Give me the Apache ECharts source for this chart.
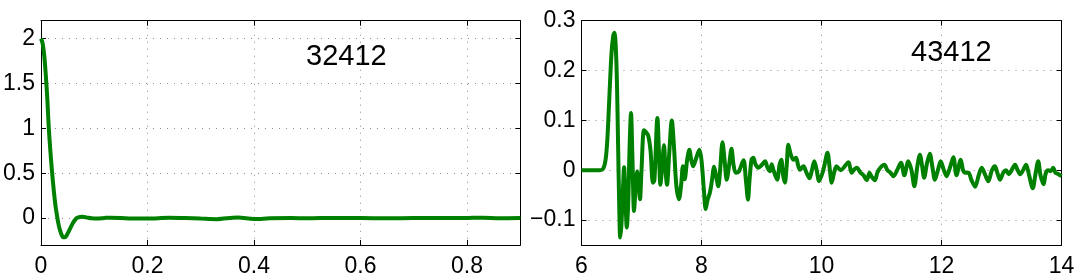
<!DOCTYPE html>
<html>
<head>
<meta charset="utf-8">
<script src="https://cdn.jsdelivr.net/npm/echarts@6/dist/echarts.min.js"></script>
<style>
html,body{margin:0;padding:0;background:#fff;}
#chart{width:1084px;height:278px;}
</style>
</head>
<body>
<div id="chart"></div>
<script>
// ---- data ----
const leftTitle = '32412';
const rightTitle = '43412';
const leftXTicks = [0, 0.2, 0.4, 0.6, 0.8];
const leftYTicks = [0, 0.5, 1, 1.5, 2];
const rightXTicks = [6, 8, 10, 12, 14];
const rightYTicks = [-0.1, 0, 0.1, 0.2, 0.3];

const leftX = [0, 0.003, 0.006, 0.009, 0.012, 0.0145, 0.0175, 0.021, 0.024, 0.027, 0.030, 0.033, 0.036, 0.039, 0.042, 0.045, 0.048, 0.052, 0.056, 0.060, 0.064, 0.068, 0.073, 0.078, 0.085, 0.095, 0.105, 0.12, 0.13, 0.15, 0.17, 0.2, 0.24, 0.27, 0.3, 0.33, 0.36, 0.37, 0.4, 0.43, 0.47, 0.5, 0.55, 0.6, 0.65, 0.7, 0.75, 0.8, 0.83, 0.86, 0.9];
const leftY = [2.0, 1.95, 1.82, 1.6, 1.32, 1.02, 0.76, 0.5, 0.31, 0.15, 0.03, -0.07, -0.14, -0.19, -0.215, -0.215, -0.195, -0.15, -0.1, -0.055, -0.02, 0.003, 0.013, 0.014, 0.008, -0.003, -0.005, 0.002, 0.005, 0.002, -0.004, -0.004, 0.003, 0.0, -0.006, -0.012, 0.004, 0.006, -0.01, -0.003, 0.0, -0.002, 0.002, 0.0, -0.003, 0.0, 0.0, 0.002, 0.005, -0.003, 0.0];

const rightX = [6.0, 6.30, 6.36, 6.40, 6.43, 6.46, 6.50, 6.53, 6.55, 6.57, 6.59, 6.61, 6.63, 6.645, 6.665, 6.69, 6.71, 6.73, 6.755, 6.78, 6.80, 6.825, 6.85, 6.875, 6.90, 6.93, 6.95, 6.975, 7.00, 7.04, 7.07, 7.11, 7.15, 7.19, 7.215, 7.265, 7.29, 7.315, 7.345, 7.375, 7.40, 7.425, 7.46, 7.505, 7.54, 7.58, 7.625, 7.66, 7.69, 7.72, 7.76, 7.797, 7.83, 7.86, 7.90, 7.965, 8.00, 8.04, 8.07, 8.10, 8.14, 8.175, 8.21, 8.24, 8.28, 8.31, 8.35, 8.385, 8.42, 8.46, 8.50, 8.535, 8.57, 8.62, 8.70, 8.74, 8.775, 8.80, 8.835, 8.865, 8.90, 8.95, 9.00, 9.06, 9.10, 9.14, 9.17, 9.20, 9.26, 9.30, 9.33, 9.36, 9.39, 9.42, 9.447, 9.48, 9.53, 9.575, 9.61, 9.64, 9.70, 9.75, 9.80, 9.84, 9.88, 9.92, 9.96, 10.03, 10.10, 10.14, 10.17, 10.21, 10.25, 10.32, 10.45, 10.50, 10.55, 10.59, 10.65, 10.70, 10.755, 10.80, 10.83, 10.89, 10.93, 10.98, 11.047, 11.10, 11.15, 11.20, 11.26, 11.325, 11.38, 11.447, 11.50, 11.547, 11.60, 11.64, 11.675, 11.71, 11.76, 11.805, 11.85, 11.89, 11.94, 11.986, 12.04, 12.086, 12.14, 12.198, 12.25, 12.32, 12.36, 12.40, 12.45, 12.50, 12.56, 12.62, 12.67, 12.73, 12.78, 12.84, 12.89, 12.93, 12.975, 13.03, 13.075, 13.12, 13.16, 13.225, 13.27, 13.31, 13.36, 13.41, 13.46, 13.52, 13.57, 13.612, 13.65, 13.70, 13.74, 13.78, 13.82, 13.86, 13.90, 13.95, 14.0];
const rightY = [0, 0, 0.003, 0.02, 0.06, 0.135, 0.235, 0.27, 0.276, 0.25, 0.18, 0.05, -0.08, -0.135, -0.11, -0.04, 0.006, -0.05, -0.115, -0.06, 0.04, 0.115, 0.02, -0.082, -0.04, -0.002, -0.02, -0.058, 0.0, 0.08, 0.077, 0.07, 0.04, -0.025, -0.02, 0.105, 0.04, -0.029, 0.01, 0.05, 0.0, -0.029, 0.03, 0.10, 0.05, -0.03, -0.058, -0.03, 0.008, -0.018, 0.02, 0.041, 0.02, 0.008, 0.02, 0.041, 0.02, -0.04, -0.078, -0.06, -0.045, -0.02, 0.007, -0.01, -0.032, 0.0, 0.056, 0.02, -0.019, 0.01, 0.043, 0.01, -0.005, -0.003, 0.02, -0.02, -0.059, -0.02, 0.022, 0.025, 0.012, 0.005, 0.01, 0.018, 0.005, -0.002, 0.012, 0.0, -0.019, 0.01, 0.021, -0.01, -0.025, 0.01, 0.051, 0.035, 0.021, 0.025, 0.01, 0.001, 0.008, -0.005, -0.016, 0.0, 0.018, 0.0, -0.022, 0.0, 0.035, 0.0, -0.025, -0.005, 0.008, 0.0, 0.016, -0.005, 0.002, 0.005, -0.005, -0.01, -0.02, -0.005, -0.012, -0.02, -0.005, 0.005, 0.011, 0.0, -0.005, -0.012, 0.0, 0.015, -0.01, 0.018, 0.0, -0.032, 0.01, 0.031, 0.01, -0.015, 0.015, 0.033, 0.005, -0.019, 0.0, 0.018, 0.0, -0.012, 0.005, 0.026, -0.01, 0.021, 0.0, -0.005, -0.005, -0.02, -0.033, -0.01, 0.005, -0.01, -0.022, 0.0, 0.008, -0.005, -0.019, -0.005, 0.0, -0.008, -0.002, 0.011, 0.0, -0.008, 0.0, 0.011, -0.01, -0.036, -0.005, 0.018, -0.01, -0.028, -0.005, 0.0, -0.002, 0.005, -0.005, -0.008, -0.012];

// ---- chart ----
const FONT = '"Liberation Sans", Arial, Helvetica, sans-serif';
const fmt = v => String(Math.round(v * 1000) / 1000).replace('-', '\u2212');
const gridLine = { show: true, lineStyle: { color: '#8a8a8a', width: 1, type: [1, 6] } };

function xAxisDef(gi, min, max, ticks, pos, showLabel) {
  return {
    type: 'value', gridIndex: gi, min: min, max: max, position: pos,
    axisLine: { show: true, onZero: false, lineStyle: { color: '#000', width: 1 } },
    axisTick: { show: true, inside: true, length: 5, customValues: ticks, lineStyle: { color: '#000' } },
    axisLabel: { show: showLabel, customValues: ticks, color: '#000', fontSize: 23, fontFamily: FONT, margin: 10, formatter: fmt },
    splitLine: showLabel ? gridLine : { show: false }
  };
}
function yAxisDef(gi, min, max, ticks, pos, showLabel) {
  return {
    type: 'value', gridIndex: gi, min: min, max: max, position: pos,
    axisLine: { show: true, onZero: false, lineStyle: { color: '#000', width: 1 } },
    axisTick: { show: true, inside: true, length: 5, customValues: ticks, lineStyle: { color: '#000' } },
    axisLabel: { show: showLabel, customValues: ticks, color: '#000', fontSize: 23, fontFamily: FONT, margin: 6, formatter: fmt },
    splitLine: showLabel ? gridLine : { show: false }
  };
}

const chart = echarts.init(document.getElementById('chart'), null, { renderer: 'canvas' });
const zip = (xs, ys) => xs.map((x, i) => [x, ys[i]]);

chart.setOption({
  animation: false,
  backgroundColor: '#fff',
  grid: [
    { left: 40.3, top: 20.7, width: 480, height: 225, containLabel: false },
    { left: 581.5, top: 20.7, width: 480, height: 225, containLabel: false }
  ],
  xAxis: [
    xAxisDef(0, 0, 0.9, leftXTicks, 'bottom', true),
    xAxisDef(0, 0, 0.9, leftXTicks, 'top', false),
    xAxisDef(1, 6, 14, rightXTicks, 'bottom', true),
    xAxisDef(1, 6, 14, rightXTicks, 'top', false)
  ],
  yAxis: [
    yAxisDef(0, -0.3, 2.2, leftYTicks, 'left', true),
    yAxisDef(0, -0.3, 2.2, leftYTicks, 'right', false),
    yAxisDef(1, -0.15, 0.3, rightYTicks, 'left', true),
    yAxisDef(1, -0.15, 0.3, rightYTicks, 'right', false)
  ],
  series: [
    { type: 'line', xAxisIndex: 0, yAxisIndex: 0, data: zip(leftX, leftY), showSymbol: false, smooth: 0.3,
      lineStyle: { color: '#008000', width: 4 }, itemStyle: { color: '#008000' } },
    { type: 'line', xAxisIndex: 2, yAxisIndex: 2, data: zip(rightX, rightY), showSymbol: false, smooth: 0.3,
      lineStyle: { color: '#008000', width: 4 }, itemStyle: { color: '#008000' } }
  ],
  graphic: [
    { type: 'text', left: 306, top: 42, style: { text: leftTitle, fontSize: 29, fontFamily: FONT, fill: '#000' } },
    { type: 'text', left: 911, top: 38, style: { text: rightTitle, fontSize: 29, fontFamily: FONT, fill: '#000' } }
  ]
});
</script>
</body>
</html>
